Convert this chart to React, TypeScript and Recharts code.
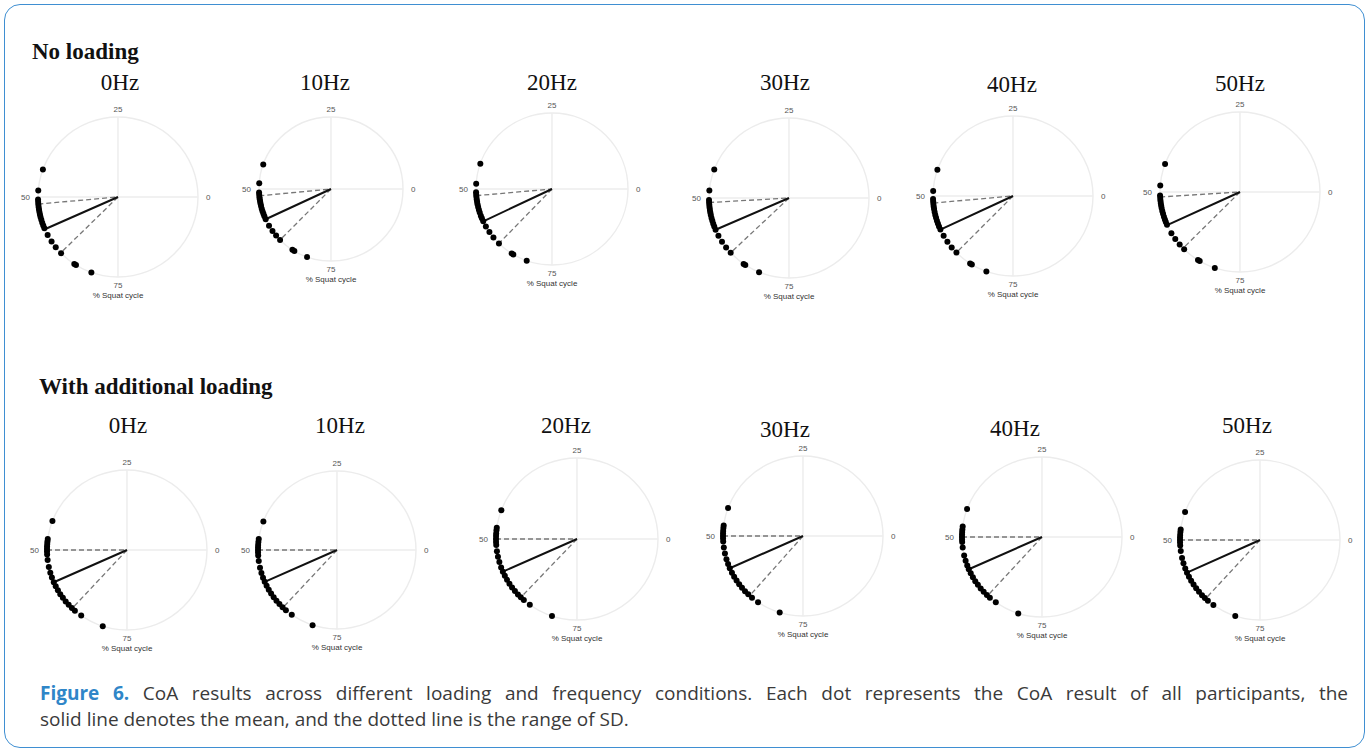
import React from "react";
import {
  RadarChart,
  Radar,
  PolarGrid,
  PolarAngleAxis,
  PolarRadiusAxis,
} from "recharts";

const rowTitles = ["No loading", "With additional loading"];
const frequencies = ["0Hz", "10Hz", "20Hz", "30Hz", "40Hz", "50Hz"];
const angleTicks = [0, 25, 50, 75];

// CoA of each participant (% squat cycle), no loading
const noLoad0Hz = [44.4, 48.7, 50.5, 51.0, 51.5, 52.0, 52.5, 53.0, 53.5, 54.0, 54.6, 55.2, 55.8, 56.4, 57.9, 59.4, 60.8, 62.4, 65.8, 66.2, 69.6];
const noLoad10Hz = [44.5, 48.7, 50.8, 51.3, 51.8, 52.3, 52.8, 53.3, 53.8, 54.4, 55.0, 55.6, 56.2, 56.9, 58.5, 59.9, 61.2, 62.5, 66.0, 66.5, 69.6];
const noLoad20Hz = [44.6, 48.9, 50.7, 51.2, 51.7, 52.2, 52.7, 53.2, 53.8, 54.4, 55.0, 55.7, 56.3, 57.0, 58.2, 59.6, 61.0, 62.7, 66.1, 66.5, 69.6];
const noLoad30Hz = [44.2, 48.5, 50.4, 50.9, 51.4, 51.9, 52.4, 52.9, 53.4, 54.0, 54.6, 55.2, 55.8, 56.5, 57.8, 59.2, 60.6, 62.0, 65.4, 65.8, 68.9];
const noLoad40Hz = [44.7, 49.0, 50.6, 51.1, 51.6, 52.1, 52.6, 53.2, 53.8, 54.4, 55.0, 55.6, 56.2, 56.9, 58.3, 59.7, 61.1, 62.5, 66.0, 66.4, 69.6];
const noLoad50Hz = [44.3, 48.7, 50.7, 51.2, 51.7, 52.2, 52.7, 53.2, 53.8, 54.4, 55.0, 55.6, 56.1, 56.7, 58.6, 60.0, 61.4, 62.7, 66.2, 66.6, 69.9];
const noLoadMean = [56.6, 56.9, 57.0, 56.5, 56.9, 56.8];
const noLoadSdLow = [51.4, 51.5, 51.4, 50.9, 51.4, 51.0];
const noLoadSdHigh = [62.3, 62.5, 62.7, 62.0, 62.5, 62.4];

// CoA of each participant (% squat cycle), with additional loading
const loaded0Hz = [44.1, 47.8, 48.3, 48.8, 49.3, 49.8, 50.3, 50.9, 52.0, 53.4, 54.6, 55.6, 56.6, 57.5, 58.4, 59.3, 60.2, 61.1, 62.0, 62.9, 63.7, 65.3, 70.1];
const loaded10Hz = [44.1, 47.8, 48.4, 49.0, 49.5, 50.0, 50.5, 51.1, 52.2, 53.6, 54.7, 55.7, 56.6, 57.5, 58.4, 59.3, 60.2, 61.1, 62.0, 62.9, 63.8, 65.3, 70.0];
const loaded20Hz = [44.2, 47.8, 48.3, 48.9, 49.4, 50.0, 50.6, 51.2, 52.4, 53.5, 54.6, 55.7, 56.6, 57.5, 58.4, 59.3, 60.2, 61.1, 62.0, 62.8, 63.6, 65.1, 70.0];
const loaded30Hz = [44.3, 47.9, 48.4, 49.0, 49.5, 50.0, 50.5, 51.1, 52.3, 53.5, 54.7, 55.7, 56.6, 57.6, 58.5, 59.4, 60.3, 61.2, 62.1, 63.0, 64.0, 65.5, 70.3];
const loaded40Hz = [44.3, 47.9, 48.5, 49.0, 49.5, 50.0, 50.5, 51.0, 52.1, 53.7, 54.8, 55.8, 56.6, 57.5, 58.4, 59.3, 60.2, 61.1, 62.0, 62.9, 63.7, 65.2, 70.2];
const loaded50Hz = [44.3, 47.9, 48.4, 49.0, 49.5, 50.0, 50.5, 51.1, 52.2, 53.6, 54.7, 55.8, 56.7, 57.6, 58.5, 59.4, 60.3, 61.2, 62.1, 62.9, 63.7, 65.1, 70.0];
const loadedMean = [56.6, 56.6, 56.6, 56.6, 56.6, 56.7];
const loadedSdLow = [50.0, 50.0, 50.0, 50.0, 50.0, 50.0];
const loadedSdHigh = [63.0, 63.0, 62.8, 63.4, 63.1, 63.1];

const rowDots = [
  [noLoad0Hz, noLoad10Hz, noLoad20Hz, noLoad30Hz, noLoad40Hz, noLoad50Hz],
  [loaded0Hz, loaded10Hz, loaded20Hz, loaded30Hz, loaded40Hz, loaded50Hz],
];
const rowMean = [noLoadMean, loadedMean];
const rowSdLow = [noLoadSdLow, loadedSdLow];
const rowSdHigh = [noLoadSdHigh, loadedSdHigh];

// where each small polar plot sits on the page
const LAYOUT = [
  [
    { cx: 118, cy: 197, r: 80, tx: 120, ty: 90 },
    { cx: 331, cy: 189, r: 72, tx: 325, ty: 90 },
    { cx: 552, cy: 189, r: 76, tx: 552, ty: 90 },
    { cx: 789, cy: 198, r: 80, tx: 785, ty: 90 },
    { cx: 1013, cy: 196, r: 80, tx: 1012, ty: 92 },
    { cx: 1240, cy: 192, r: 80, tx: 1240, ty: 91 },
  ],
  [
    { cx: 127, cy: 550, r: 80, tx: 128, ty: 433 },
    { cx: 337, cy: 550, r: 79, tx: 340, ty: 433 },
    { cx: 577, cy: 539, r: 81, tx: 566, ty: 433 },
    { cx: 803, cy: 536, r: 80, tx: 785, ty: 437 },
    { cx: 1042, cy: 537, r: 80, tx: 1015, ty: 436 },
    { cx: 1260, cy: 540, r: 80, tx: 1247, ty: 433 },
  ],
];
const ROW_TITLE_POS = [
  { x: 32, y: 40 },
  { x: 39, y: 375 },
];

const SERIF = "'Liberation Serif', 'Times New Roman', serif";
const SANS = "'Liberation Sans', Arial, sans-serif";
const CAPTION_FONT = "'Open Sans', sans-serif";
const PAD = 30;

const AngleTick = (props: any) => {
  const { x, y, payload, textAnchor } = props;
  if (payload.value === 100) return <g />;
  return (
    <text
      x={x}
      y={y}
      textAnchor={textAnchor}
      dominantBaseline="central"
      fontSize={8}
      fontFamily={SANS}
      fill="#555"
    >
      {payload.value}
    </text>
  );
};

// open path through the radar points (no closing back to the start)
const openLine = (stroke: string, width: number, dash?: string) => (props: any) => {
  const pts = props.points || [];
  const d = pts.map((p: any, i: number) => `${i ? "L" : "M"}${p.x},${p.y}`).join("");
  return (
    <path d={d} fill="none" stroke={stroke} strokeWidth={width} strokeDasharray={dash} />
  );
};

function PolarPanel({ layout, dots, mean, lo, hi, title }: any) {
  const { cx, cy, r, tx, ty } = layout;
  const size = 2 * (r + PAD);
  const left = cx - r - PAD;
  const top = cy - r - PAD;

  const lineData = [
    { p: lo, low: 1, high: 0, mean: 0 },
    { p: mean, low: 0, high: 0, mean: 1 },
    { p: hi, low: 0, high: 1, mean: 0 },
  ];
  const dotData = dots.map((p: number) => ({ p, v: 1 }));

  const common = {
    width: size,
    height: size,
    margin: { top: 0, right: 0, bottom: 0, left: 0 },
    cx: "50%",
    cy: "50%",
    innerRadius: 0,
    outerRadius: r,
    startAngle: 0,
    endAngle: 360,
  };

  return (
    <>
      <div
        style={{
          position: "absolute",
          left: tx - 60,
          top: ty - 19,
          width: 120,
          textAlign: "center",
          fontFamily: SERIF,
          fontSize: 23,
          lineHeight: "23px",
          color: "#111",
        }}
      >
        {title}
      </div>
      <div style={{ position: "absolute", left, top }}>
        <RadarChart {...common} data={lineData}>
          <PolarGrid
            gridType="circle"
            polarRadius={[r]}
            stroke="#ececec"
            strokeWidth={1.4}
          />
          <PolarAngleAxis
            dataKey="p"
            type="number"
            domain={[0, 100]}
            ticks={angleTicks}
            tick={AngleTick}
            tickLine={false}
            axisLine={false}
            tickSize={8}
          />
          <PolarRadiusAxis type="number" domain={[0, 1]} tick={false} axisLine={false} />
          <Radar dataKey="low" isAnimationActive={false} shape={openLine("#777", 1.3, "5 3")} />
          <Radar dataKey="high" isAnimationActive={false} shape={openLine("#777", 1.3, "5 3")} />
          <Radar dataKey="mean" isAnimationActive={false} shape={openLine("#111", 2)} />
        </RadarChart>
      </div>
      <div style={{ position: "absolute", left, top }}>
        <RadarChart {...common} data={dotData}>
          <PolarAngleAxis
            dataKey="p"
            type="number"
            domain={[0, 100]}
            ticks={angleTicks}
            tick={false}
            tickLine={false}
            axisLine={false}
          />
          <PolarRadiusAxis type="number" domain={[0, 1]} tick={false} axisLine={false} />
          <Radar
            dataKey="v"
            isAnimationActive={false}
            stroke="none"
            fill="none"
            dot={{ r: 3, fill: "#000", stroke: "none" }}
          />
        </RadarChart>
      </div>
      <div
        style={{
          position: "absolute",
          left: cx - 50,
          top: cy + r + 14,
          width: 100,
          textAlign: "center",
          fontFamily: SANS,
          fontSize: 8,
          lineHeight: "10px",
          color: "#333",
        }}
      >
        % Squat cycle
      </div>
    </>
  );
}

export default function App() {
  return (
    <div
      style={{
        position: "absolute",
        left: 0,
        top: 0,
        width: 1370,
        height: 751,
        background: "#fff",
        overflow: "hidden",
      }}
    >
      <div
        style={{
          position: "absolute",
          left: 4,
          top: 4,
          width: 1359,
          height: 742,
          border: "1.5px solid #3f8fd2",
          borderRadius: 16,
        }}
      />
      {rowTitles.map((t, ri) => (
        <div
          key={t}
          style={{
            position: "absolute",
            left: ROW_TITLE_POS[ri].x,
            top: ROW_TITLE_POS[ri].y,
            fontFamily: SERIF,
            fontWeight: "bold",
            fontSize: 23,
            lineHeight: "23px",
            color: "#111",
            whiteSpace: "nowrap",
          }}
        >
          {t}
        </div>
      ))}
      {rowTitles.map((_, ri) =>
        frequencies.map((f, fi) => (
          <PolarPanel
            key={`${ri}-${f}`}
            layout={LAYOUT[ri][fi]}
            dots={rowDots[ri][fi]}
            mean={rowMean[ri][fi]}
            lo={rowSdLow[ri][fi]}
            hi={rowSdHigh[ri][fi]}
            title={f}
          />
        ))
      )}
      <div
        style={{
          position: "absolute",
          left: 40,
          top: 680,
          width: 1308,
          fontFamily: CAPTION_FONT,
          fontSize: 19,
          lineHeight: "27px",
          color: "#3a3a3a",
          textAlign: "justify",
          textAlignLast: "justify",
        }}
      >
        <span style={{ color: "#2f86c8", fontWeight: "bold" }}>Figure 6.</span> CoA
        results across different loading and frequency conditions. Each dot represents the
        CoA result of all participants, the
      </div>
      <div
        style={{
          position: "absolute",
          left: 40,
          top: 706,
          fontFamily: CAPTION_FONT,
          fontSize: 19,
          lineHeight: "27px",
          color: "#3a3a3a",
          whiteSpace: "nowrap",
        }}
      >
        solid line denotes the mean, and the dotted line is the range of SD.
      </div>
    </div>
  );
}
